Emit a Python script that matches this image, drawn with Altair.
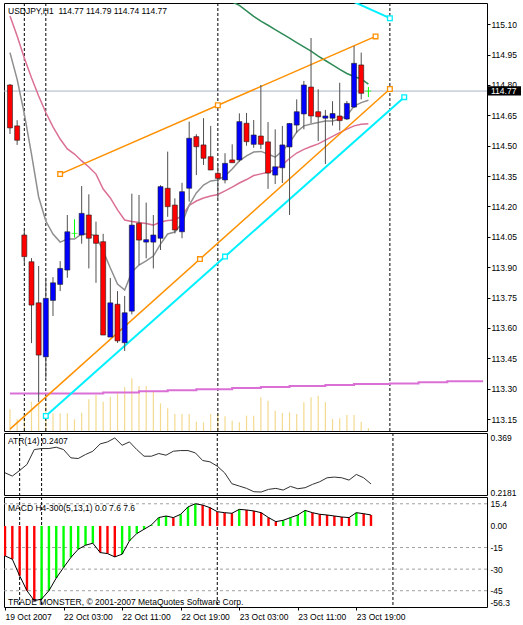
import altair as alt
import pandas as pd

symbol = "USDJPY,H1"

bar_open = [114.800, 114.598, 114.059, 113.927, 113.724, 113.457, 113.736, 113.815, 113.886, 114.067,
            114.059, 114.158, 114.059, 114.026, 113.555, 113.717, 113.527, 113.683, 114.117, 114.024,
            114.024, 114.043, 114.290, 114.207, 114.075, 114.290, 114.545, 114.504, 114.446, 114.364,
            114.331, 114.430, 114.430, 114.611, 114.507, 114.548, 114.519, 114.355, 114.391, 114.494,
            114.602, 114.657, 114.790, 114.668, 114.636, 114.636, 114.647, 114.632, 114.691, 114.899,
            114.770]
bar_high = [114.805, 114.626, 114.084, 113.945, 113.906, 113.848, 113.851, 113.930, 114.158, 114.137,
            114.301, 114.260, 114.125, 114.065, 113.847, 113.782, 113.758, 114.263, 114.257, 114.219,
            114.158, 114.305, 114.471, 114.240, 114.317, 114.619, 114.557, 114.636, 114.598, 114.413,
            114.463, 114.507, 114.660, 114.662, 114.627, 114.800, 114.617, 114.581, 114.598, 114.612,
            114.729, 114.820, 115.032, 114.779, 114.677, 114.720, 114.811, 114.721, 114.993, 114.960,
            114.790]
bar_low = [114.558, 114.504, 113.920, 113.525, 113.234, 113.354, 113.659, 113.782, 113.848, 114.046,
           114.016, 113.894, 113.823, 113.565, 113.555, 113.526, 113.486, 113.667, 113.911, 113.944,
           113.894, 113.985, 114.149, 114.067, 114.043, 114.224, 114.355, 114.405, 114.380, 114.242,
           114.314, 114.416, 114.421, 114.500, 114.490, 114.484, 114.287, 114.311, 114.316, 114.158,
           114.563, 114.581, 114.612, 114.523, 114.410, 114.600, 114.575, 114.627, 114.686, 114.729,
           114.740]
bar_close = [114.588, 114.527, 113.952, 113.713, 113.466, 113.746, 113.823, 113.894, 114.075, 114.067,
             114.166, 114.043, 114.018, 113.565, 113.724, 113.536, 113.675, 114.108, 114.034, 114.036,
             114.059, 114.298, 114.199, 114.084, 114.273, 114.537, 114.495, 114.438, 114.380, 114.339,
             114.413, 114.416, 114.619, 114.520, 114.553, 114.507, 114.365, 114.396, 114.504, 114.610,
             114.668, 114.800, 114.647, 114.643, 114.647, 114.659, 114.624, 114.709, 114.907, 114.759,
             114.770]
volume = [433, 233, 280, 587, 560, 553, 353, 353, 353, 233,
          367, 633, 720, 587, 687, 787, 873, 1053, 900, 900,
          800, 553, 453, 340, 340, 340, 187, 173, 340, 360,
          293, 207, 173, 307, 307, 673, 607, 407, 360, 373,
          340, 573, 673, 707, 573, 240, 253, 320, 320, 187, 53]

ma_grey = [114.960, 114.828, 114.657, 114.459, 114.247, 114.128, 114.064, 114.024, 114.039, 114.039,
           114.064, 114.065, 114.054, 113.980, 113.896, 113.817, 113.787, 113.876, 113.911, 113.931,
           113.955, 114.014, 114.064, 114.074, 114.118, 114.207, 114.267, 114.306, 114.326, 114.331,
           114.351, 114.385, 114.425, 114.450, 114.469, 114.472, 114.459, 114.444, 114.474, 114.514,
           114.568, 114.598, 114.607, 114.615, 114.622, 114.622, 114.631, 114.647, 114.696, 114.713,
           114.725]
ma_pink = [115.141, 115.042, 114.933, 114.836, 114.746, 114.664, 114.593, 114.533, 114.484, 114.459,
           114.425, 114.395, 114.360, 114.286, 114.242, 114.183, 114.133, 114.126, 114.121, 114.116,
           114.108, 114.123, 114.131, 114.133, 114.155, 114.205, 114.227, 114.242, 114.252, 114.259,
           114.277, 114.296, 114.316, 114.333, 114.353, 114.361, 114.369, 114.382, 114.407, 114.437,
           114.464, 114.482, 114.496, 114.509, 114.528, 114.546, 114.565, 114.582, 114.598, 114.606,
           114.609]
ma_green_first_bar = 30
ma_green = [115.235, 115.210, 115.193, 115.166, 115.139, 115.115, 115.095, 115.074, 115.052, 115.031,
            115.009, 114.988, 114.967, 114.943, 114.921, 114.899, 114.877, 114.857, 114.842, 114.830,
            114.804]
h4_bars = [0, 13, 18, 22, 26, 31, 35, 39, 44, 48, 53, 57, 61, 66]
h4_ma = [113.276, 113.281, 113.287, 113.292, 113.297, 113.303, 113.308, 113.313, 113.318, 113.323,
         113.326, 113.332, 113.337, 113.337]

atr = [0.2718, 0.2626, 0.2783, 0.2950, 0.3367, 0.3395, 0.3395, 0.3432, 0.3367, 0.3135,
       0.3117, 0.3228, 0.3320, 0.3524, 0.3580, 0.3690, 0.3487, 0.3580, 0.3367, 0.3181,
       0.3181, 0.3256, 0.3209, 0.3320, 0.3339, 0.3339, 0.3274, 0.3061, 0.3024, 0.2903,
       0.2718, 0.2412, 0.2348, 0.2283, 0.2190, 0.2181, 0.2255, 0.2283, 0.2236, 0.2338,
       0.2273, 0.2301, 0.2394, 0.2468, 0.2579, 0.2598, 0.2579, 0.2514, 0.2672, 0.2579,
       0.2407]
macd = [-20.8, -23.1, -34.6, -45.0, -51.9, -50.8, -45.0, -36.2, -28.9, -21.9,
        -16.2, -13.4, -12.0, -18.5, -19.2, -21.5, -19.6, -10.4, -5.3, -2.3,
        0.7, 5.8, 6.9, 5.8, 8.1, 13.2, 15.4, 14.5, 12.7, 9.9,
        9.2, 8.8, 11.5, 11.1, 10.4, 9.2, 5.8, 3.0, 3.9, 5.8,
        7.6, 10.8, 9.2, 8.1, 7.6, 6.9, 6.2, 5.8, 9.2, 8.5, 7.6]
macd_first_value = 0.0
macd_grid_levels = [15.4, -15, -30, -45]

separators = [2, 5, 29, 53]
time_ticks = [0, 8, 16, 24, 32, 40, 48]
time_labels = ["19 Oct 2007", "22 Oct 03:00", "22 Oct 11:00", "22 Oct 19:00",
               "23 Oct 03:00", "23 Oct 11:00", "23 Oct 19:00"]
price_ticks = [113.15, 113.30, 113.45, 113.60, 113.75, 113.90, 114.05, 114.20,
               114.35, 114.50, 114.65, 114.80, 114.95, 115.10]
atr_ticks = [0.369, 0.2181]
macd_ticks = [15.4, 0, -15, -30, -45, -56.3]

orange_lines = {"upper": ([7, 51], [114.36, 115.04]), "lower": ([0, 53], [113.10, 114.78])}
cyan_lines = {"lower": ([5, 55], [113.165, 114.74]), "upper": ([43, 53], [115.29, 115.13])}
handles = {("orange", "upper"): ["start", "mid", "end"], ("orange", "lower"): ["mid", "end"],
           ("cyan", "lower"): ["start", "mid", "end"], ("cyan", "upper"): ["end"]}

copyright_text = "TRADE MONSTER, \u00a9 2001-2007 MetaQuotes Software Corp."

# ------------------------------------------------------------------
n = len(bar_close)
bars = list(range(n))
FONT = "Liberation Sans"
FS = 8.5
W = 483
H_MAIN, H_ATR, H_MACD = 428, 62, 110
X_DOMAIN = [-0.137, 65.85]
PRICE_DOMAIN = [113.091, 115.205]
ATR_DOMAIN = [0.2098, 0.3829]
MACD_DOMAIN = [-56.3, 20.1]
ORANGE = "#ff9000"
CYAN = "#00f0ff"

labels_js = "[" + ",".join(f"'{t}'" for t in time_labels) + "]"
ticks_js = "[" + ",".join(str(t) for t in time_ticks) + "]"
time_axis = alt.Axis(orient="bottom", values=time_ticks,
                     labelExpr=f"{labels_js}[indexof({ticks_js}, datum.value)]",
                     tickSize=3, tickColor="#000", labelAlign="left", labelBaseline="top",
                     labelPadding=2, labelFlush=False, labelOverlap=False, domain=False,
                     grid=False, title=None)
price_axis = alt.Axis(orient="right", values=price_ticks, format=".2f", tickSize=3, tickColor="#000",
                      labelPadding=1, domain=False, grid=False, zindex=0, labelFlush=False,
                      labelOverlap=False, title=None)
atr_axis = alt.Axis(orient="right", values=atr_ticks,
                    labelExpr="datum.value < 0.3 ? format(datum.value, '.4f') : format(datum.value, '.3f')",
                    ticks=False, labelPadding=3, domain=False, grid=False, labelFlush=False,
                    labelOverlap=False, title=None)
macd_axis = alt.Axis(orient="right", values=macd_ticks,
                     labelExpr="datum.value === 0 ? '0.00' : '' + datum.value",
                     ticks=False, labelPadding=3, domain=False, grid=False, labelFlush=True,
                     labelOverlap=False, title=None)


def xq(axis=None):
    return alt.X("bar:Q", scale=alt.Scale(domain=X_DOMAIN, nice=False, zero=False), axis=axis)


def yp(field):
    return alt.Y(f"{field}:Q", scale=alt.Scale(domain=PRICE_DOMAIN, nice=False, zero=False), axis=price_axis)


def ya(field):
    return alt.Y(f"{field}:Q", scale=alt.Scale(domain=ATR_DOMAIN, nice=False, zero=False), axis=atr_axis)


def ym(field):
    return alt.Y(f"{field}:Q", scale=alt.Scale(domain=MACD_DOMAIN, nice=False, zero=False), axis=macd_axis)


def txt(label, y):
    return alt.Chart(pd.DataFrame({"t": [label]})).mark_text(
        align="left", baseline="middle", font=FONT, fontSize=FS, color="#000").encode(
        x=alt.value(4), y=alt.value(y), text="t:N")


candles = pd.DataFrame({"bar": bars, "open": bar_open, "high": bar_high,
                        "low": bar_low, "close": bar_close})
candles["body"] = ["#0000ff" if c > o else "#ff0000" for o, c in zip(bar_open, bar_close)]
candles["wick"] = ["#00ff00" if c == o else "#505050" for o, c in zip(bar_open, bar_close)]
bodies_df = candles[candles["open"] != candles["close"]]
doji_df = candles[candles["open"] == candles["close"]]

last = candles.iloc[-1]
header = f"{symbol}\u00a0\u00a0{last.open:.2f} {last.high:.2f} {last.low:.2f} {last.close:.2f}"

vol_df = pd.DataFrame({"bar": bars, "vol": volume})
sep_df = pd.DataFrame({"bar": separators})
grey_df = pd.DataFrame({"bar": bars, "price": ma_grey})
pink_df = pd.DataFrame({"bar": bars, "price": ma_pink})
green_df = pd.DataFrame({"bar": list(range(ma_green_first_bar, ma_green_first_bar + len(ma_green))),
                         "price": ma_green})
h4_df = pd.DataFrame({"bar": h4_bars, "price": h4_ma})

line_rows, handle_rows = [], []
for cname, lines in (("orange", orange_lines), ("cyan", cyan_lines)):
    for lname, (bx, py) in lines.items():
        for b, p in zip(bx, py):
            line_rows.append({"line": f"{cname}-{lname}", "kind": cname, "bar": b, "price": p})
        pts = {"start": (bx[0], py[0]), "end": (bx[1], py[1]),
               "mid": ((bx[0] + bx[1]) / 2, (py[0] + py[1]) / 2)}
        for h in handles[(cname, lname)]:
            handle_rows.append({"kind": cname, "bar": pts[h][0], "price": pts[h][1],
                                "col": ORANGE if cname == "orange" else CYAN})
lines_df = pd.DataFrame(line_rows)
handles_df = pd.DataFrame(handle_rows)

# ---------------- main panel ----------------
vol_layer = alt.Chart(vol_df).mark_rule(strokeWidth=1.2, color="#f3da8e", clip=True).encode(
    x=xq(),
    y=alt.Y("vol:Q", scale=alt.Scale(domain=[0, 8560], nice=False, zero=True), axis=None),
    y2=alt.datum(0),
)

bid_line = alt.Chart(pd.DataFrame({"price": [float(last.close)]})).mark_rule(
    color="#aab3c5", strokeWidth=1).encode(y=yp("price"))
seps_main = alt.Chart(sep_df).mark_rule(color="#000", strokeDash=[3, 2], strokeWidth=1).encode(x=xq())

h4_line = alt.Chart(h4_df).mark_line(interpolate="step-after", color="#da70d6", strokeWidth=2, clip=True).encode(
    x=xq(), y=yp("price"))
pink_line = alt.Chart(pink_df).mark_line(color="#db7093", strokeWidth=1.5, clip=True).encode(x=xq(), y=yp("price"))
grey_line = alt.Chart(grey_df).mark_line(color="#8f8f8f", strokeWidth=1.5, clip=True).encode(x=xq(), y=yp("price"))
green_line = alt.Chart(green_df).mark_line(color="#2e8b57", strokeWidth=1.5, clip=True).encode(x=xq(), y=yp("price"))

orange_tl = alt.Chart(lines_df[lines_df.kind == "orange"]).mark_line(color=ORANGE, strokeWidth=1.5, clip=True).encode(
    x=xq(), y=yp("price"), detail="line:N")
cyan_tl = alt.Chart(lines_df[lines_df.kind == "cyan"]).mark_line(color=CYAN, strokeWidth=2, clip=True).encode(
    x=xq(), y=yp("price"), detail="line:N")

wicks = alt.Chart(candles).mark_rule(strokeWidth=1, clip=True).encode(
    x=xq(), y=yp("low"), y2=alt.Y2("high:Q"), color=alt.Color("wick:N", scale=None))
bodies = alt.Chart(bodies_df).mark_bar(size=5, stroke="#202020", strokeWidth=0.6, clip=True).encode(
    x=xq(), y=yp("open"), y2=alt.Y2("close:Q"), fill=alt.Fill("body:N", scale=None))
dojis = alt.Chart(doji_df).mark_tick(orient="horizontal", size=6, thickness=1, color="#00ff00").encode(
    x=xq(), y=yp("close"))

squares = alt.Chart(handles_df).mark_point(shape="square", size=22, filled=True, fill="white",
                                           strokeWidth=1.3, opacity=1).encode(
    x=xq(), y=yp("price"), stroke=alt.Stroke("col:N", scale=None))

box_df = pd.DataFrame({"price": [float(last.close)], "top": [float(last.close) + 0.024],
                       "bottom": [float(last.close) - 0.022], "label": [f"{last.close:.2f}"]})
price_box = alt.Chart(box_df).mark_rect(color="#000").encode(
    x=alt.value(484), x2=alt.value(517), y=yp("top"), y2=alt.Y2("bottom:Q"))
price_text = alt.Chart(box_df).mark_text(color="white", align="left", baseline="middle",
                                         font=FONT, fontSize=FS).encode(
    x=alt.value(487), y=yp("price"), text="label:N")
header_text = txt(header, 8)

price_layers = alt.layer(bid_line, seps_main, h4_line, pink_line, grey_line, green_line,
                         orange_tl, cyan_tl, wicks, bodies, dojis, squares,
                         price_box, price_text, header_text)
main = alt.layer(vol_layer, price_layers).resolve_scale(y="independent").properties(width=W, height=H_MAIN)

# ---------------- ATR panel ----------------
atr_df = pd.DataFrame({"bar": bars, "atr": atr})
atr_line = alt.Chart(atr_df).mark_line(color="#303030", strokeWidth=1).encode(x=xq(), y=ya("atr"))
seps_atr = alt.Chart(sep_df).mark_rule(color="#000", strokeDash=[3, 2], strokeWidth=1).encode(x=xq())
atr_chart = alt.layer(seps_atr, atr_line, txt(f"ATR(14) {atr[-1]:.4f}", 8)).properties(width=W, height=H_ATR)

# ---------------- MACD panel ----------------
macd_df = pd.DataFrame({"bar": bars, "macd": macd})
macd_df["c"] = ["#ff0000" if i == 0 or macd[i] <= macd[i - 1] else "#00ff00" for i in range(n)]

grid_df = pd.DataFrame({"level": macd_grid_levels})
macd_grid = alt.Chart(grid_df).mark_rule(color="#a0a0a0", strokeDash=[3, 3], strokeWidth=1).encode(
    y=ym("level"))
seps_macd = alt.Chart(sep_df).mark_rule(color="#000", strokeDash=[3, 2], strokeWidth=1).encode(
    x=xq(axis=time_axis))
macd_bars = alt.Chart(macd_df).mark_rule(strokeWidth=2.4, clip=True).encode(
    x=xq(axis=time_axis), y=ym("macd"), y2=alt.datum(0), color=alt.Color("c:N", scale=None))
macd_line = alt.Chart(macd_df).mark_line(color="#000", strokeWidth=1).encode(
    x=xq(axis=time_axis), y=ym("macd"))
macd_label = f"MACD H4-300(5,13,1) {macd_first_value:.1f} {macd[-1]:.1f} {macd[-1]:.1f}"
macd_chart = alt.layer(macd_grid, seps_macd, macd_bars, macd_line,
                       txt(macd_label, 11), txt(copyright_text, 105)).properties(width=W, height=H_MACD)

chart = alt.vconcat(main, atr_chart, macd_chart, spacing=2, bounds="flush").properties(
    padding={"left": 2, "top": 2, "right": 0, "bottom": 0}, background="white"
).configure_view(stroke="#000", strokeWidth=1).configure_axis(
    labelFont=FONT, labelFontSize=FS, labelColor="#000")

chart.save("out.html", embed_options={"renderer": "svg", "actions": False})
